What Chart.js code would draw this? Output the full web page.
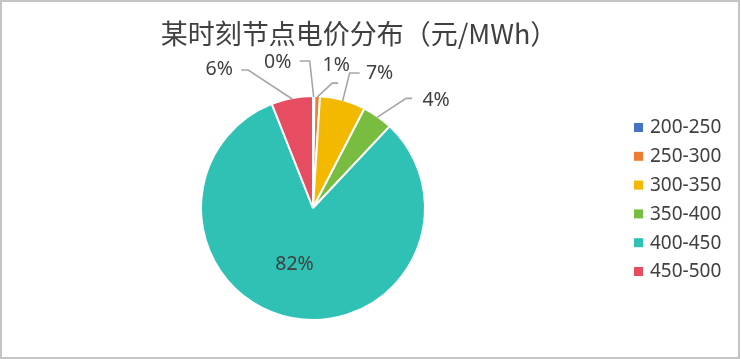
<!DOCTYPE html>
<html>
<head>
<meta charset="utf-8">
<script src="https://cdn.jsdelivr.net/npm/chart.js@4.4.0/dist/chart.umd.min.js"></script>
<style>
  html, body { margin: 0; padding: 0; background: #fff; }
  #wrap { width: 741px; height: 359px; position: relative; }
</style>
</head>
<body>
<div id="wrap"><canvas id="c" width="741" height="359"></canvas></div>
<script>
// ---- data ----
const titleText = '某时刻节点电价分布（元/MWh）';
const categories = ['200-250', '250-300', '300-350', '350-400', '400-450', '450-500'];
const shares = [0.2, 0.8, 6.6, 4.4, 82.0, 6.0];
const labelTexts = ['0%', '1%', '7%', '4%', '82%', '6%'];
const colors = ['#4472C4', '#ED7D31', '#F3B800', '#78BD3F', '#2FC1B4', '#E64D60'];

// ---- label layout (offsets relative to slice anchor) ----
// t: text centre offset; e: elbow offset; h: horizontal end x offset (relative to elbow)
const labelLayout = [
  { t: [-36, -35], e: [-4, -36], h: -10 },
  { t: [19, -32], e: [15, -14], h: 6 },
  { t: [37, -28], e: [7, -28], h: 10 },
  { t: [59, -17], e: [29, -19], h: 6 },
  { inside: true, t: [-8, 1] },
  { t: [-73, -30], e: [-44, -29], h: -7 }
];

const textColor = '#404040';
const lineColor = '#A6A6A6';

const overlay = {
  id: 'overlay',
  afterDraw(chart) {
    const ctx = chart.ctx;
    const meta = chart.getDatasetMeta(0);
    ctx.save();
    // outer frame
    ctx.strokeStyle = '#C4C4C4';
    ctx.lineWidth = 2;
    ctx.strokeRect(1, 1, 738, 357);

    // title
    ctx.fillStyle = textColor;
    ctx.font = '27px "Noto Sans CJK SC", "Noto Sans", sans-serif';
    ctx.textAlign = 'center';
    ctx.textBaseline = 'middle';
    ctx.fillText(titleText, 359, 34);

    // data labels
    ctx.font = '19.5px "Noto Sans", "Noto Sans CJK SC", sans-serif';
    meta.data.forEach((arc, i) => {
      const p = arc.getProps(['x', 'y', 'startAngle', 'endAngle', 'outerRadius'], true);
      const mid = (p.startAngle + p.endAngle) / 2;
      const L = labelLayout[i];
      if (L.inside) {
        const r = p.outerRadius * 0.5;
        const ax = p.x + Math.cos(mid) * r, ay = p.y + Math.sin(mid) * r;
        ctx.fillStyle = textColor;
        ctx.fillText(labelTexts[i], ax + L.t[0], ay + L.t[1]);
        return;
      }
      const ax = p.x + Math.cos(mid) * (p.outerRadius - 1);
      const ay = p.y + Math.sin(mid) * (p.outerRadius - 1);
      const ex = ax + L.e[0], ey = ay + L.e[1];
      ctx.strokeStyle = lineColor;
      ctx.lineWidth = 1.6;
      ctx.beginPath();
      ctx.moveTo(ax, ay);
      ctx.lineTo(ex, ey);
      ctx.lineTo(ex + L.h, ey);
      ctx.stroke();
      ctx.fillStyle = textColor;
      ctx.fillText(labelTexts[i], ax + L.t[0], ay + L.t[1]);
    });

    // legend
    ctx.font = '19px "Noto Sans", sans-serif';
    ctx.textAlign = 'left';
    categories.forEach((c, i) => {
      const y = 127.5 + i * 28.8;
      ctx.fillStyle = colors[i];
      ctx.fillRect(634, y - 4.5, 9, 9);
      ctx.fillStyle = textColor;
      ctx.fillText(c, 650, y + 0.5);
    });
    ctx.restore();
  }
};

new Chart(document.getElementById('c'), {
  type: 'pie',
  data: {
    labels: categories,
    datasets: [{
      data: shares,
      backgroundColor: colors,
      borderColor: '#FFFFFF',
      borderWidth: 2
    }]
  },
  options: {
    responsive: false,
    animation: false,
    layout: { padding: { left: 200, right: 315, top: 95, bottom: 38 } },
    plugins: {
      legend: { display: false },
      title: { display: false },
      tooltip: { enabled: false }
    }
  },
  plugins: [overlay]
});
</script>
</body>
</html>
